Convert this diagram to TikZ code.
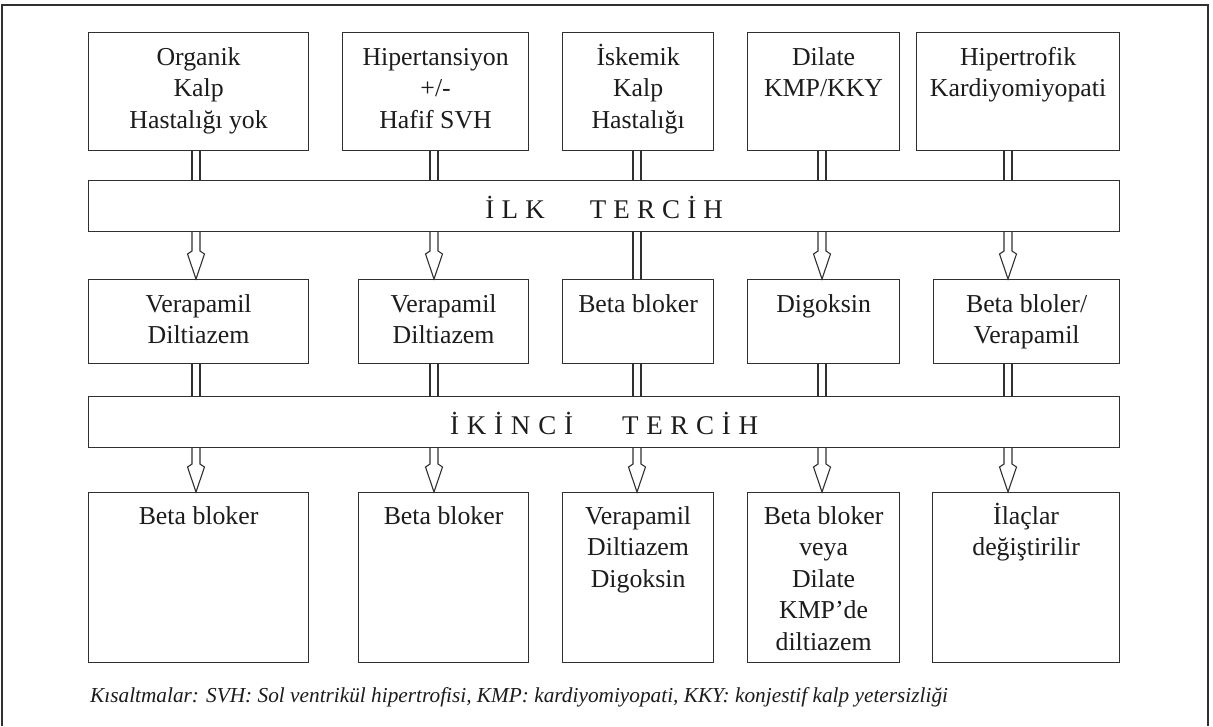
\documentclass[tikz,border=0pt]{standalone}
\usepackage{fontspec}
\setmainfont{Liberation Serif}
\usetikzlibrary{calc}
\definecolor{ink}{HTML}{1C1C1C}
\definecolor{edge}{HTML}{303030}
\pgfdeclarelayer{back}
\pgfsetlayers{back,main}
\newcommand\boxfont{\fontsize{25.8}{31.5}\selectfont}
\newcommand\barfont{\fontsize{27}{31.5}\selectfont}
\newcommand\notefont{\fontsize{21.3}{24}\selectfont\itshape}
\newcommand\firstln{\rule{0pt}{23pt}}
% hollow arrow from a bar down to a box, along a column
\newcommand\harrow[3]{%
  \draw[conn] ($(#1.south -| #3)+(-4,0)$) -- ($(#2.north -| #3)+(-4,-28)$)
    -- ($(#2.north -| #3)+(-8.5,-25)$) -- (#2.north -| #3)
    -- ($(#2.north -| #3)+(8.5,-25)$) -- ($(#2.north -| #3)+(4,-28)$)
    -- ($(#1.south -| #3)+(4,0)$);}
% plain double line between two nodes along a column
\newcommand\dline[3]{%
  \draw[conn] ($(#1.south -| #3)+(-4,0)$) -- ($(#2.north -| #3)+(-4,0)$);
  \draw[conn] ($(#1.south -| #3)+(4,0)$) -- ($(#2.north -| #3)+(4,0)$);}
% letter-spaced bar captions
\newcommand\ilk{İ\hspace{7.3pt}L\hspace{7.3pt}K\hspace{45pt}T\hspace{7.1pt}E\hspace{7.1pt}R\hspace{7.1pt}C\hspace{7.1pt}İ\hspace{7.1pt}H}
\newcommand\ikinci{İ\hspace{7.8pt}K\hspace{7.8pt}İ\hspace{7.8pt}N\hspace{7.8pt}C\hspace{7.8pt}İ\hspace{49pt}T\hspace{7.7pt}E\hspace{7.7pt}R\hspace{7.7pt}C\hspace{7.7pt}İ\hspace{7.7pt}H}
\begin{document}
\begin{tikzpicture}[x=1pt,y=-1pt,
  box/.style={draw=edge, line width=1.2pt, anchor=north west, inner sep=0pt},
  lbl/.style={anchor=north, inner sep=0pt, align=center, font=\boxfont, text=ink},
  bartext/.style={anchor=base, inner sep=0pt, font=\barfont, text=ink},
  conn/.style={draw=edge, line width=1.1pt, line join=miter},
  frame/.style={draw=edge, line width=2.2pt}]
\useasboundingbox (0,0) rectangle (1213,726);
\begin{pgfonlayer}{back}
\fill[white] (0,0) rectangle (1213,726);
\end{pgfonlayer}
\draw[frame] (2,726) -- (2,5) -- (1208,5) -- (1208,726);

% columns of connectors
\coordinate (c1) at (196,0);
\coordinate (c2) at (434,0);
\coordinate (c3) at (637,0);
\coordinate (c4) at (822,0);
\coordinate (c5) at (1008,0);

% top row
\node[box, minimum width=220pt, minimum height=118pt] (t1) at (88,32) {};
\node[box, minimum width=186pt, minimum height=118pt] (t2) at (342,32) {};
\node[box, minimum width=151pt, minimum height=118pt] (t3) at (562,32) {};
\node[box, minimum width=152pt, minimum height=118pt] (t4) at (747,32) {};
\node[box, minimum width=203pt, minimum height=118pt] (t5) at (916,32) {};
\node[lbl] (t1l) at ($(t1.north)+(0,10)$) {\firstln Organik\\Kalp\\Hastalığı yok};
\node[lbl] (t2l) at ($(t2.north)+(0,10)$) {\firstln Hipertansiyon\\+/-\\Hafif SVH};
\node[lbl] (t3l) at ($(t3.north)+(0,10)$) {\firstln İskemik\\Kalp\\Hastalığı};
\node[lbl] (t4l) at ($(t4.north)+(0,10)$) {\firstln Dilate\\KMP/KKY};
\node[lbl] (t5l) at ($(t5.north)+(0,10)$) {\firstln Hipertrofik\\Kardiyomiyopati};

% first choice bar
\node[box, minimum width=1031pt, minimum height=51pt] (bar1) at (88,180) {};
\node[bartext] (bar1l) at ($(bar1.center)+(0,12.5)$) {\ilk};

% middle row
\node[box, minimum width=220pt, minimum height=84pt] (m1) at (88,279) {};
\node[box, minimum width=170pt, minimum height=84pt] (m2) at (358,279) {};
\node[box, minimum width=151pt, minimum height=84pt] (m3) at (562,279) {};
\node[box, minimum width=152pt, minimum height=84pt] (m4) at (747,279) {};
\node[box, minimum width=186pt, minimum height=84pt] (m5) at (933,279) {};
\node[lbl] (m1l) at ($(m1.north)+(0,10)$) {\firstln Verapamil\\Diltiazem};
\node[lbl] (m2l) at ($(m2.north)+(0,10)$) {\firstln Verapamil\\Diltiazem};
\node[lbl] (m3l) at ($(m3.north)+(0,10)$) {\firstln Beta bloker};
\node[lbl] (m4l) at ($(m4.north)+(0,10)$) {\firstln Digoksin};
\node[lbl] (m5l) at ($(m5.north)+(0,10)$) {\firstln Beta bloler/\\Verapamil};

% second choice bar
\node[box, minimum width=1031pt, minimum height=51pt] (bar2) at (88,396) {};
\node[bartext] (bar2l) at ($(bar2.center)+(0,12)$) {\ikinci};

% bottom row
\node[box, minimum width=220pt, minimum height=170pt] (b1) at (88,492) {};
\node[box, minimum width=170pt, minimum height=170pt] (b2) at (358,492) {};
\node[box, minimum width=151pt, minimum height=170pt] (b3) at (562,492) {};
\node[box, minimum width=152pt, minimum height=170pt] (b4) at (747,492) {};
\node[box, minimum width=187pt, minimum height=170pt] (b5) at (932,492) {};
\node[lbl] (b1l) at ($(b1.north)+(0,9)$) {\firstln Beta bloker};
\node[lbl] (b2l) at ($(b2.north)+(0,9)$) {\firstln Beta bloker};
\node[lbl] (b3l) at ($(b3.north)+(0,9)$) {\firstln Verapamil\\Diltiazem\\Digoksin};
\node[lbl] (b4l) at ($(b4.north)+(0,9)$) {\firstln Beta bloker\\veya\\Dilate\\KMP’de\\diltiazem};
\node[lbl] (b5l) at ($(b5.north)+(0,9)$) {\firstln İlaçlar\\değiştirilir};

% connectors
\begin{pgfonlayer}{back}
\dline{t1}{bar1}{c1}
\dline{t2}{bar1}{c2}
\dline{t3}{bar1}{c3}
\dline{t4}{bar1}{c4}
\dline{t5}{bar1}{c5}
\harrow{bar1}{m1}{c1}
\harrow{bar1}{m2}{c2}
\dline{bar1}{m3}{c3}
\harrow{bar1}{m4}{c4}
\harrow{bar1}{m5}{c5}
\dline{m1}{bar2}{c1}
\dline{m2}{bar2}{c2}
\dline{m3}{bar2}{c3}
\dline{m4}{bar2}{c4}
\dline{m5}{bar2}{c5}
\harrow{bar2}{b1}{c1}
\harrow{bar2}{b2}{c2}
\harrow{bar2}{b3}{c3}
\harrow{bar2}{b4}{c4}
\harrow{bar2}{b5}{c5}
\end{pgfonlayer}

% footnote
\node[anchor=base west, inner sep=0pt, font=\notefont, text=ink] (note) at (90,702)
  {Kısaltmalar: SVH: Sol ventrikül hipertrofisi, KMP: kardiyomiyopati, KKY: konjestif kalp yetersizliği};
\end{tikzpicture}
\end{document}
